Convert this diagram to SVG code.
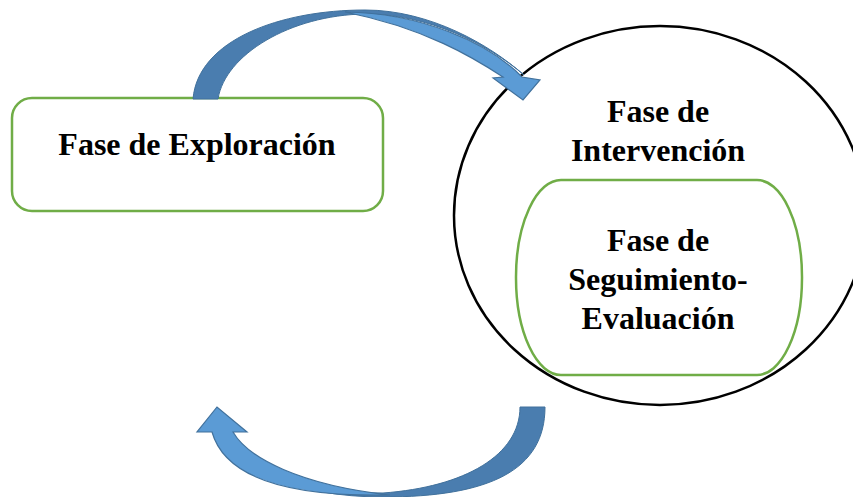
<svg xmlns="http://www.w3.org/2000/svg" width="853" height="497" viewBox="0 0 853 497">
<style>
.lbl{font-family:"Liberation Serif","Times New Roman",serif;font-weight:bold;font-size:32px;fill:#000;text-anchor:middle}
.green{fill:#fff;stroke:#70AD47;stroke-width:2.5}
.dark{fill:#4A7DAF;stroke:#41719C;stroke-width:1}
.light{fill:#5B9BD5;stroke:#41719C;stroke-width:1.2;stroke-linejoin:miter}
</style>
<rect width="853" height="497" fill="#fff"/>
<g id="exploracion">
<rect class="green" x="12" y="98" width="371" height="113" rx="20" ry="20"/>
<text class="lbl" x="197" y="155">Fase de Exploración</text>
</g>
<g id="intervencion">
<ellipse cx="660" cy="215.5" rx="206" ry="189.5" fill="#fff" stroke="#000" stroke-width="2.5"/>
<text class="lbl" x="658" y="122">Fase de</text>
<text class="lbl" x="658" y="161">Intervención</text>
</g>
<g id="seguimiento">
<rect class="green" x="516" y="180" width="286" height="195" rx="45" ry="97"/>
<text class="lbl" x="658" y="251">Fase de</text>
<text class="lbl" x="658" y="290">Seguimiento-</text>
<text class="lbl" x="658" y="329">Evaluación</text>
</g>
<g id="connectors">
<path class="dark" d="M193,99 C198,40 280,10 365,10 C430,10 490,45 524,75 C488,44 428,14 365,14 C290,15 225,55 218,99 Z"/>
<path class="light" d="M345,12 C420,13 488,42 522,77 L540,80 L523,100 L493,78 L503,77 C474,58 425,28 345,12 Z"/>
<path class="dark" d="M545,407 C545,470 490,497 383,497 C340,497 300,490 265,476 C300,488 340,493 383,493 C465,487 520,455 520,407 Z"/>
<path class="light" d="M233,432 C248,458 300,485 390,495 C290,497 225,478 212,432 L197,432 L217,407 L247,432 Z"/>
</g>
</svg>
